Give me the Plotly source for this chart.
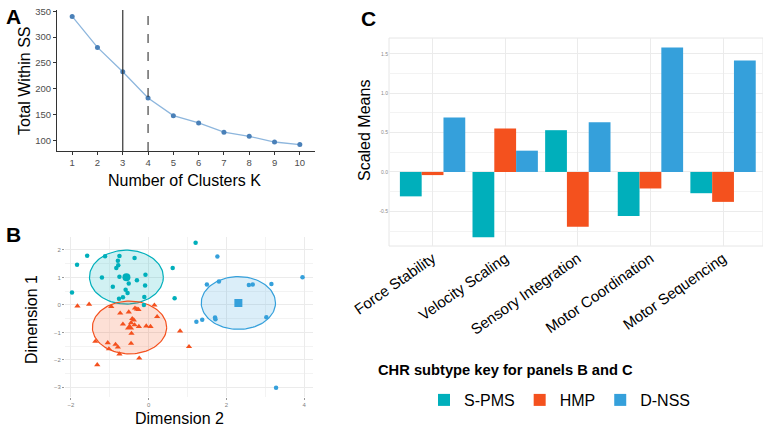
import numpy as np
import plotly.graph_objects as go

# ---------------- Data ----------------
# Panel A: elbow plot
k_values = [1, 2, 3, 4, 5, 6, 7, 8, 9, 10]
within_ss = [340, 280, 233, 182, 148, 134, 116, 108, 97, 92]
k_solid = 3
k_dashed = 4

# Panel B: cluster scatter (Dimension 2 = x, Dimension 1 = y)
spms_x = [-1.97, -1.84, -1.58, -1.12, -0.75, -0.36, -0.79, -0.78, -0.83, -1.20, -0.75, -0.30,
          -0.08, -0.92, -0.51, -0.09, -0.59, -0.54, -0.66, -0.76, -0.11, 0.62, 0.67, 1.21, -0.12]
spms_y = [0.45, 1.46, 1.79, 1.77, 1.78, 1.71, 1.61, 1.44, 1.34, 1.00, 1.02, 0.90,
          1.10, 0.66, 0.78, 0.71, 0.55, 0.43, 0.28, 0.22, 0.29, 1.34, 0.24, 2.26, 0.00]
hmp_x = [-1.83, -1.53, -0.96, -0.73, -0.51, -0.35, -0.30, -0.26, 0.15, 0.22, -0.66, -0.42,
         -0.38, -0.45, -0.25, -0.06, 0.05, -0.44, 0.81, 1.04, -1.37, -1.05, -0.85, -0.79,
         -1.02, -0.75, -0.45, -0.24, -1.32, -0.36]
hmp_y = [-0.04, 0.02, -0.06, -0.30, -0.26, -0.12, -0.15, -0.17, -0.01, -0.43, -0.70, -0.50,
         -0.55, -0.65, -0.79, -0.77, -0.79, -1.04, -0.95, -1.52, -1.33, -1.38, -1.44, -1.54,
         -1.60, -1.79, -1.40, -1.94, -2.18, -0.73]
dnss_x = [1.77, 1.50, 1.81, 2.58, 2.68, 3.16, 3.96, 1.71, 1.72, 1.38, 1.23, 3.03, 3.28]
dnss_y = [1.76, 0.74, 0.85, 0.72, 0.74, 0.76, 1.01, -0.46, -0.52, -0.54, -0.61, -0.45, -3.01]
centroid_x = [-0.57, -0.49, 2.31]
centroid_y = [1.01, -0.82, 0.07]
ellipse_rx = [0.95, 0.955, 0.955]
ellipse_ry = [0.98, 0.96, 0.96]

# Panel C: scaled means
domains = ["Force Stability", "Velocity Scaling", "Sensory Integration",
           "Motor Coordination", "Motor Sequencing"]
spms_means = [-0.31, -0.83, 0.53, -0.56, -0.27]
hmp_means = [-0.04, 0.55, -0.695, -0.21, -0.38]
dnss_means = [0.69, 0.27, 0.63, 1.58, 1.415]

subtypes = ["S-PMS", "HMP", "D-NSS"]
colors = ["#00AFBB", "#F4511E", "#35A0DB"]
fills = ["rgba(0,175,187,0.18)", "rgba(244,81,30,0.18)", "rgba(53,160,219,0.18)"]

FONT = "Liberation Sans, Arial, sans-serif"
W, H = 763, 427

def px(x):
    return x / W

def py(y):
    return 1 - y / H

fig = go.Figure()

# ---------------- Panel A ----------------
fig.add_trace(go.Scatter(x=k_values, y=within_ss, mode="lines+markers",
                         line=dict(color="#8DB6DD", width=1.3),
                         marker=dict(color="#4A80B8", size=5),
                         xaxis="x", yaxis="y", showlegend=False))
fig.add_shape(type="line", xref="x", yref="y domain", x0=k_solid, x1=k_solid, y0=0, y1=1,
              line=dict(color="#333333", width=1.2))
fig.add_shape(type="line", xref="x", yref="y domain", x0=k_dashed, x1=k_dashed, y0=0, y1=1,
              line=dict(color="#333333", width=1.1, dash="dash"))

# ---------------- Panel B ----------------
theta = np.linspace(0, 2 * np.pi, 120)
for i in range(3):
    ex = centroid_x[i] + ellipse_rx[i] * np.cos(theta)
    ey = centroid_y[i] + ellipse_ry[i] * np.sin(theta)
    fig.add_trace(go.Scatter(x=ex, y=ey, mode="lines", fill="toself",
                             fillcolor=fills[i], line=dict(color=colors[i], width=1.2),
                             xaxis="x2", yaxis="y2", showlegend=False, hoverinfo="skip"))

fig.add_trace(go.Scatter(x=spms_x, y=spms_y, mode="markers",
                         marker=dict(color=colors[0], size=4.5, symbol="circle"),
                         xaxis="x2", yaxis="y2", showlegend=False))
fig.add_trace(go.Scatter(x=hmp_x, y=hmp_y, mode="markers",
                         marker=dict(color=colors[1], size=5.5, symbol="triangle-up"),
                         xaxis="x2", yaxis="y2", showlegend=False))
fig.add_trace(go.Scatter(x=dnss_x, y=dnss_y, mode="markers",
                         marker=dict(color=colors[2], size=4.5, symbol="circle"),
                         xaxis="x2", yaxis="y2", showlegend=False))
centroid_symbols = ["circle", "triangle-up", "square"]
for i in range(3):
    fig.add_trace(go.Scatter(x=[centroid_x[i]], y=[centroid_y[i]], mode="markers",
                             marker=dict(color=colors[i], size=8, symbol=centroid_symbols[i]),
                             xaxis="x2", yaxis="y2", showlegend=False))

# ---------------- Panel C ----------------
for name, vals, col in zip(subtypes, [spms_means, hmp_means, dnss_means], colors):
    fig.add_trace(go.Bar(x=domains, y=vals, name=name, marker=dict(color=col, line=dict(width=0)),
                         xaxis="x3", yaxis="y3"))

grid = "#EBEBEB"
tickfont_small = dict(family=FONT, size=6, color="#7F7F7F")

fig.update_layout(
    template="none",
    width=W, height=H,
    margin=dict(l=0, r=0, t=0, b=0, pad=0, autoexpand=False),
    paper_bgcolor="white", plot_bgcolor="white",
    font=dict(family=FONT, color="#000000"),
    barmode="group", bargap=0.1, bargroupgap=0,
    # Panel A axes
    xaxis=dict(domain=[px(57), px(315)], range=[0.4, 10.6], tickvals=k_values, automargin=False,
               showgrid=False, zeroline=False, showline=True, linecolor="#333333", linewidth=1,
               ticks="outside", ticklen=3, tickcolor="#333333",
               tickfont=dict(family=FONT, size=9.5, color="#4D4D4D"), anchor="y"),
    yaxis=dict(domain=[py(151), py(10)], range=[79.6, 352.4], tickvals=[100, 150, 200, 250, 300, 350],
               automargin=False,
               showgrid=False, zeroline=False, showline=True, linecolor="#333333", linewidth=1,
               ticks="outside", ticklen=3, tickcolor="#333333",
               tickfont=dict(family=FONT, size=9.5, color="#4D4D4D"), anchor="x"),
    # Panel B axes
    xaxis2=dict(domain=[px(65), px(313)], range=[-2.15, 4.23], tickvals=[-2, 0, 2, 4], automargin=False,
                showgrid=True, gridcolor=grid, gridwidth=1, zeroline=False, showline=False,
                minor=dict(tickvals=[-1, 1, 3], showgrid=True, gridcolor="#F3F3F3"),
                ticks="outside", ticklen=2, tickcolor="#999999",
                tickfont=tickfont_small, anchor="y2"),
    yaxis2=dict(domain=[py(397), py(237)], range=[-3.35, 2.47], tickvals=[-3, -2, -1, 0, 1, 2],
                automargin=False,
                showgrid=True, gridcolor=grid, gridwidth=1, zeroline=False, showline=False,
                minor=dict(tickvals=[-2.5, -1.5, -0.5, 0.5, 1.5], showgrid=True, gridcolor="#F3F3F3"),
                ticks="outside", ticklen=2, tickcolor="#999999",
                tickfont=tickfont_small, anchor="x2"),
    # Panel C axes
    xaxis3=dict(domain=[px(389), 1.0], range=[-0.6, 4.55], automargin=False,
                showgrid=True, gridcolor=grid, zeroline=False, showline=False,
                tickangle=-35, tickfont=dict(family=FONT, size=15, color="#000000"),
                ticks="", anchor="y3"),
    yaxis3=dict(domain=[py(246), py(38)], range=[-0.94, 1.70], tickvals=[-0.5, 0, 0.5, 1.0, 1.5],
                ticktext=["-0.5", "0.0", "0.5", "1.0", "1.5"], automargin=False,
                showgrid=True, gridcolor=grid, zeroline=False, showline=False,
                minor=dict(tickvals=[-0.75, -0.25, 0.25, 0.75, 1.25], showgrid=True, gridcolor="#F3F3F3"),
                ticks="", tickfont=dict(family=FONT, size=5, color="#8A8A8A"), anchor="x3"),
    legend=dict(orientation="h", x=px(424), y=py(400), xanchor="left", yanchor="middle",
                font=dict(family=FONT, size=16, color="#000000"), bgcolor="rgba(0,0,0,0)",
                itemwidth=30, traceorder="normal"),
)

# panel border for C
fig.add_shape(type="rect", xref="x3 domain", yref="y3 domain", x0=0, x1=1, y0=0, y1=1,
              line=dict(color="#E6E6E6", width=1), layer="below")

annotations = [
    dict(text="<b>A</b>", x=px(4), y=py(3), size=21, xanchor="left", yanchor="top"),
    dict(text="<b>B</b>", x=px(4), y=py(221), size=21, xanchor="left", yanchor="top"),
    dict(text="<b>C</b>", x=px(359), y=py(5), size=21, xanchor="left", yanchor="top"),
    dict(text="Number of Clusters K", x=px(184), y=py(180), size=16, xanchor="center", yanchor="middle"),
    dict(text="Total Within SS", x=px(24), y=py(81), size=16, xanchor="center", yanchor="middle", angle=-90),
    dict(text="Dimension 2", x=px(179), y=py(418), size=16, xanchor="center", yanchor="middle"),
    dict(text="Dimension 1", x=px(31), y=py(319), size=16, xanchor="center", yanchor="middle", angle=-90),
    dict(text="Scaled Means", x=px(364), y=py(131), size=16, xanchor="center", yanchor="middle", angle=-90),
    dict(text="<b>CHR subtype key for panels B and C</b>", x=px(376), y=py(370), size=14.7,
         xanchor="left", yanchor="middle"),
]
for a in annotations:
    fig.add_annotation(text=a["text"], x=a["x"], y=a["y"], xref="paper", yref="paper",
                       showarrow=False, xanchor=a["xanchor"], yanchor=a["yanchor"],
                       textangle=a.get("angle", 0),
                       font=dict(family=FONT, size=a["size"], color="#000000"))

fig.write_html("out.html", config={"displayModeBar": False},
               post_script="document.body.style.margin='0';")
